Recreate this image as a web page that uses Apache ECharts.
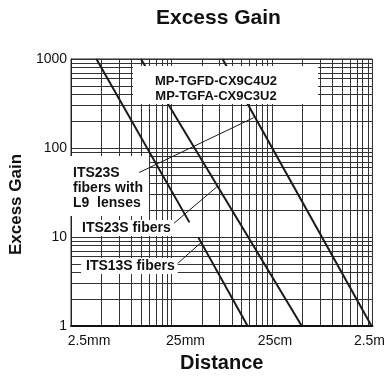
<!DOCTYPE html>
<html><head><meta charset="utf-8">
<script src="https://cdn.jsdelivr.net/npm/echarts@6/dist/echarts.min.js"></script>
<style>html,body{margin:0;padding:0;background:#fff}#c{width:388px;height:378px}</style>
</head><body><div id="c"></div>
<script>
// ---- data (distance in mm, excess gain) ----
const xTickMm = [2.5, 25, 250, 2500];
const xTickLabels = ['2.5mm', '25mm', '25cm', '2.5m'];
const yTicks = [1, 10, 100, 1000];
const yTickLabels = ['1', '10', '100', '1000'];
const modelNames = ['MP-TGFD-CX9C4U2', 'MP-TGFA-CX9C3U2'];

const curveA_mm = [4.47, 37.7];  const curveA_gain = [1000, 14.6];
const curveB_mm = [12.4, 495];   const curveB_gain = [1000, 1];
const curveC_mm = [46.2, 143];   const curveC_gain = [9.9, 1];
const curveD_mm = [80.5, 2450];  const curveD_gain = [1000, 1];

// leader lines of the annotations
const leaderL9_mm = [11.9, 164];  const leaderL9_gain = [53, 219];
const leader23_mm = [26.3, 71.9]; const leader23_gain = [14.2, 37.2];
const leader13_mm = [27.5, 49.5]; const leader13_gain = [4.82, 8.71];

const annoL9 = 'ITS23S\nfibers with\nL9  lenses';
const anno23 = 'ITS23S fibers';
const anno13 = 'ITS13S fibers';

// ---- build ----
const BASE = 2.5; // x axis unit: multiples of 2.5 mm
const toPts = (mm, g) => mm.map((d, i) => [d / BASE, g[i]]);
const minorX = [], minorY = [];
for (let d = 0; d < 3; d++) for (let k = 2; k <= 9; k++) {
  minorX.push({xAxis: k * Math.pow(10, d)});
  minorY.push({yAxis: k * Math.pow(10, d)});
}
const gridColor = '#333';
const lineColor = '#1a1a1a';
const FONT = '"Liberation Sans", Arial, Helvetica, sans-serif';

const curve = (name, mm, g) => ({
  name, type: 'line', data: toPts(mm, g), showSymbol: false, z: 2, silent: true,
  lineStyle: {color: lineColor, width: 2}, animation: false
});
const leader = (name, mm, g) => ({
  name, type: 'line', data: toPts(mm, g), showSymbol: false, z: 2, silent: true,
  lineStyle: {color: lineColor, width: 1}, animation: false
});

const xLabelRich = {
  s0: {padding: [0, 0, 0, 36], fontSize: 14, fontFamily: FONT, color: '#111'},
  s1: {padding: [0, 0, 0, 28], fontSize: 14, fontFamily: FONT, color: '#111'},
  s2: {padding: [0, 0, 0, 6], fontSize: 14, fontFamily: FONT, color: '#111'},
  s3: {padding: [0, 6, 0, 0], fontSize: 14, fontFamily: FONT, color: '#111'}
};

const chart = echarts.init(document.getElementById('c'), null, {renderer: 'canvas'});
chart.setOption({
  animation: false,
  backgroundColor: '#fff',
  title: {
    text: 'Excess Gain', left: 151, top: 3,
    textStyle: {fontSize: 21, fontWeight: 'bold', fontFamily: FONT, color: '#111'}
  },
  grid: {left: 68, right: 15, top: 59, bottom: 51, show: true, borderColor: '#222', borderWidth: 1, backgroundColor: 'transparent'},
  xAxis: {
    type: 'log', logBase: 10, min: 1, max: 1000,
    name: 'Distance', nameLocation: 'middle', nameGap: 27,
    nameTextStyle: {fontSize: 20, fontWeight: 'bold', fontFamily: FONT, color: '#111'},
    axisLine: {show: true, lineStyle: {color: '#111', width: 2}},
    axisTick: {show: false},
    splitLine: {show: true, lineStyle: {color: gridColor, width: 1}},
    axisLabel: {
      margin: 8, color: '#111', fontSize: 14, fontFamily: FONT,
      formatter: v => {
        const i = xTickMm.findIndex(m => Math.abs(m / BASE - v) < 1e-6 * v);
        return i < 0 ? '' : '{s' + i + '|' + xTickLabels[i] + '}';
      },
      rich: xLabelRich
    }
  },
  yAxis: {
    type: 'log', logBase: 10, min: 1, max: 1000,
    name: 'Excess Gain', nameLocation: 'middle', nameGap: 44,
    nameTextStyle: {fontSize: 17, fontWeight: 'bold', fontFamily: FONT, color: '#111', padding: [0, 24, 0, 0]},
    axisLine: {show: true, lineStyle: {color: '#222', width: 1}},
    axisTick: {show: false},
    splitLine: {show: true, lineStyle: {color: gridColor, width: 1}},
    axisLabel: {
      margin: 4, color: '#111', fontSize: 14, fontFamily: FONT,
      formatter: v => {
        const i = yTicks.findIndex(t => Math.abs(t - v) < 1e-6 * t);
        return i < 0 ? '' : yTickLabels[i];
      }
    }
  },
  series: [
    {
      name: 'grid', type: 'line', data: [], z: 0, silent: true,
      markLine: {
        silent: true, symbol: 'none', z: 0, animation: false,
        label: {show: false},
        lineStyle: {color: gridColor, width: 1, type: 'solid'},
        data: minorX.concat(minorY)
      }
    },
    curve('Curve A', curveA_mm, curveA_gain),
    curve('Curve B', curveB_mm, curveB_gain),
    curve('Curve C', curveC_mm, curveC_gain),
    curve('Curve D', curveD_mm, curveD_gain),
    leader('Leader L9', leaderL9_mm, leaderL9_gain),
    leader('Leader ITS23S', leader23_mm, leader23_gain),
    leader('Leader ITS13S', leader13_mm, leader13_gain)
  ],
  graphic: [
    {type: 'rect', z: 1, shape: {x: 69, y: 156, width: 80, height: 60}, style: {fill: '#fff'}},
    {type: 'rect', z: 3, shape: {x: 133, y: 66, width: 185, height: 38}, style: {fill: '#fff'}},
    {type: 'text', z: 4, x: 216, y: 81, style: {text: modelNames[0], font: 'bold 13px ' + FONT, fill: '#111', align: 'center', verticalAlign: 'middle', textAlign: 'center', textVerticalAlign: 'middle'}},
    {type: 'text', z: 4, x: 216, y: 96, style: {text: modelNames[1], font: 'bold 13px ' + FONT, fill: '#111', align: 'center', verticalAlign: 'middle', textAlign: 'center', textVerticalAlign: 'middle'}},
    {type: 'text', z: 4, x: 73, y: 166, style: {text: annoL9, font: 'bold 14px ' + FONT, lineHeight: 15, fill: '#111', align: 'left', verticalAlign: 'top', textAlign: 'left', textVerticalAlign: 'top'}},
    {type: 'text', z: 4, x: 78, y: 228, style: {text: anno23, font: 'bold 14px ' + FONT, fill: '#111', backgroundColor: '#fff', padding: [1, 3, 1, 4], align: 'left', verticalAlign: 'middle', textAlign: 'left', textVerticalAlign: 'middle'}},
    {type: 'text', z: 4, x: 81, y: 266, style: {text: anno13, font: 'bold 14px ' + FONT, fill: '#111', backgroundColor: '#fff', padding: [1, 3, 1, 5], align: 'left', verticalAlign: 'middle', textAlign: 'left', textVerticalAlign: 'middle'}}
  ]
});
</script>
</body></html>
